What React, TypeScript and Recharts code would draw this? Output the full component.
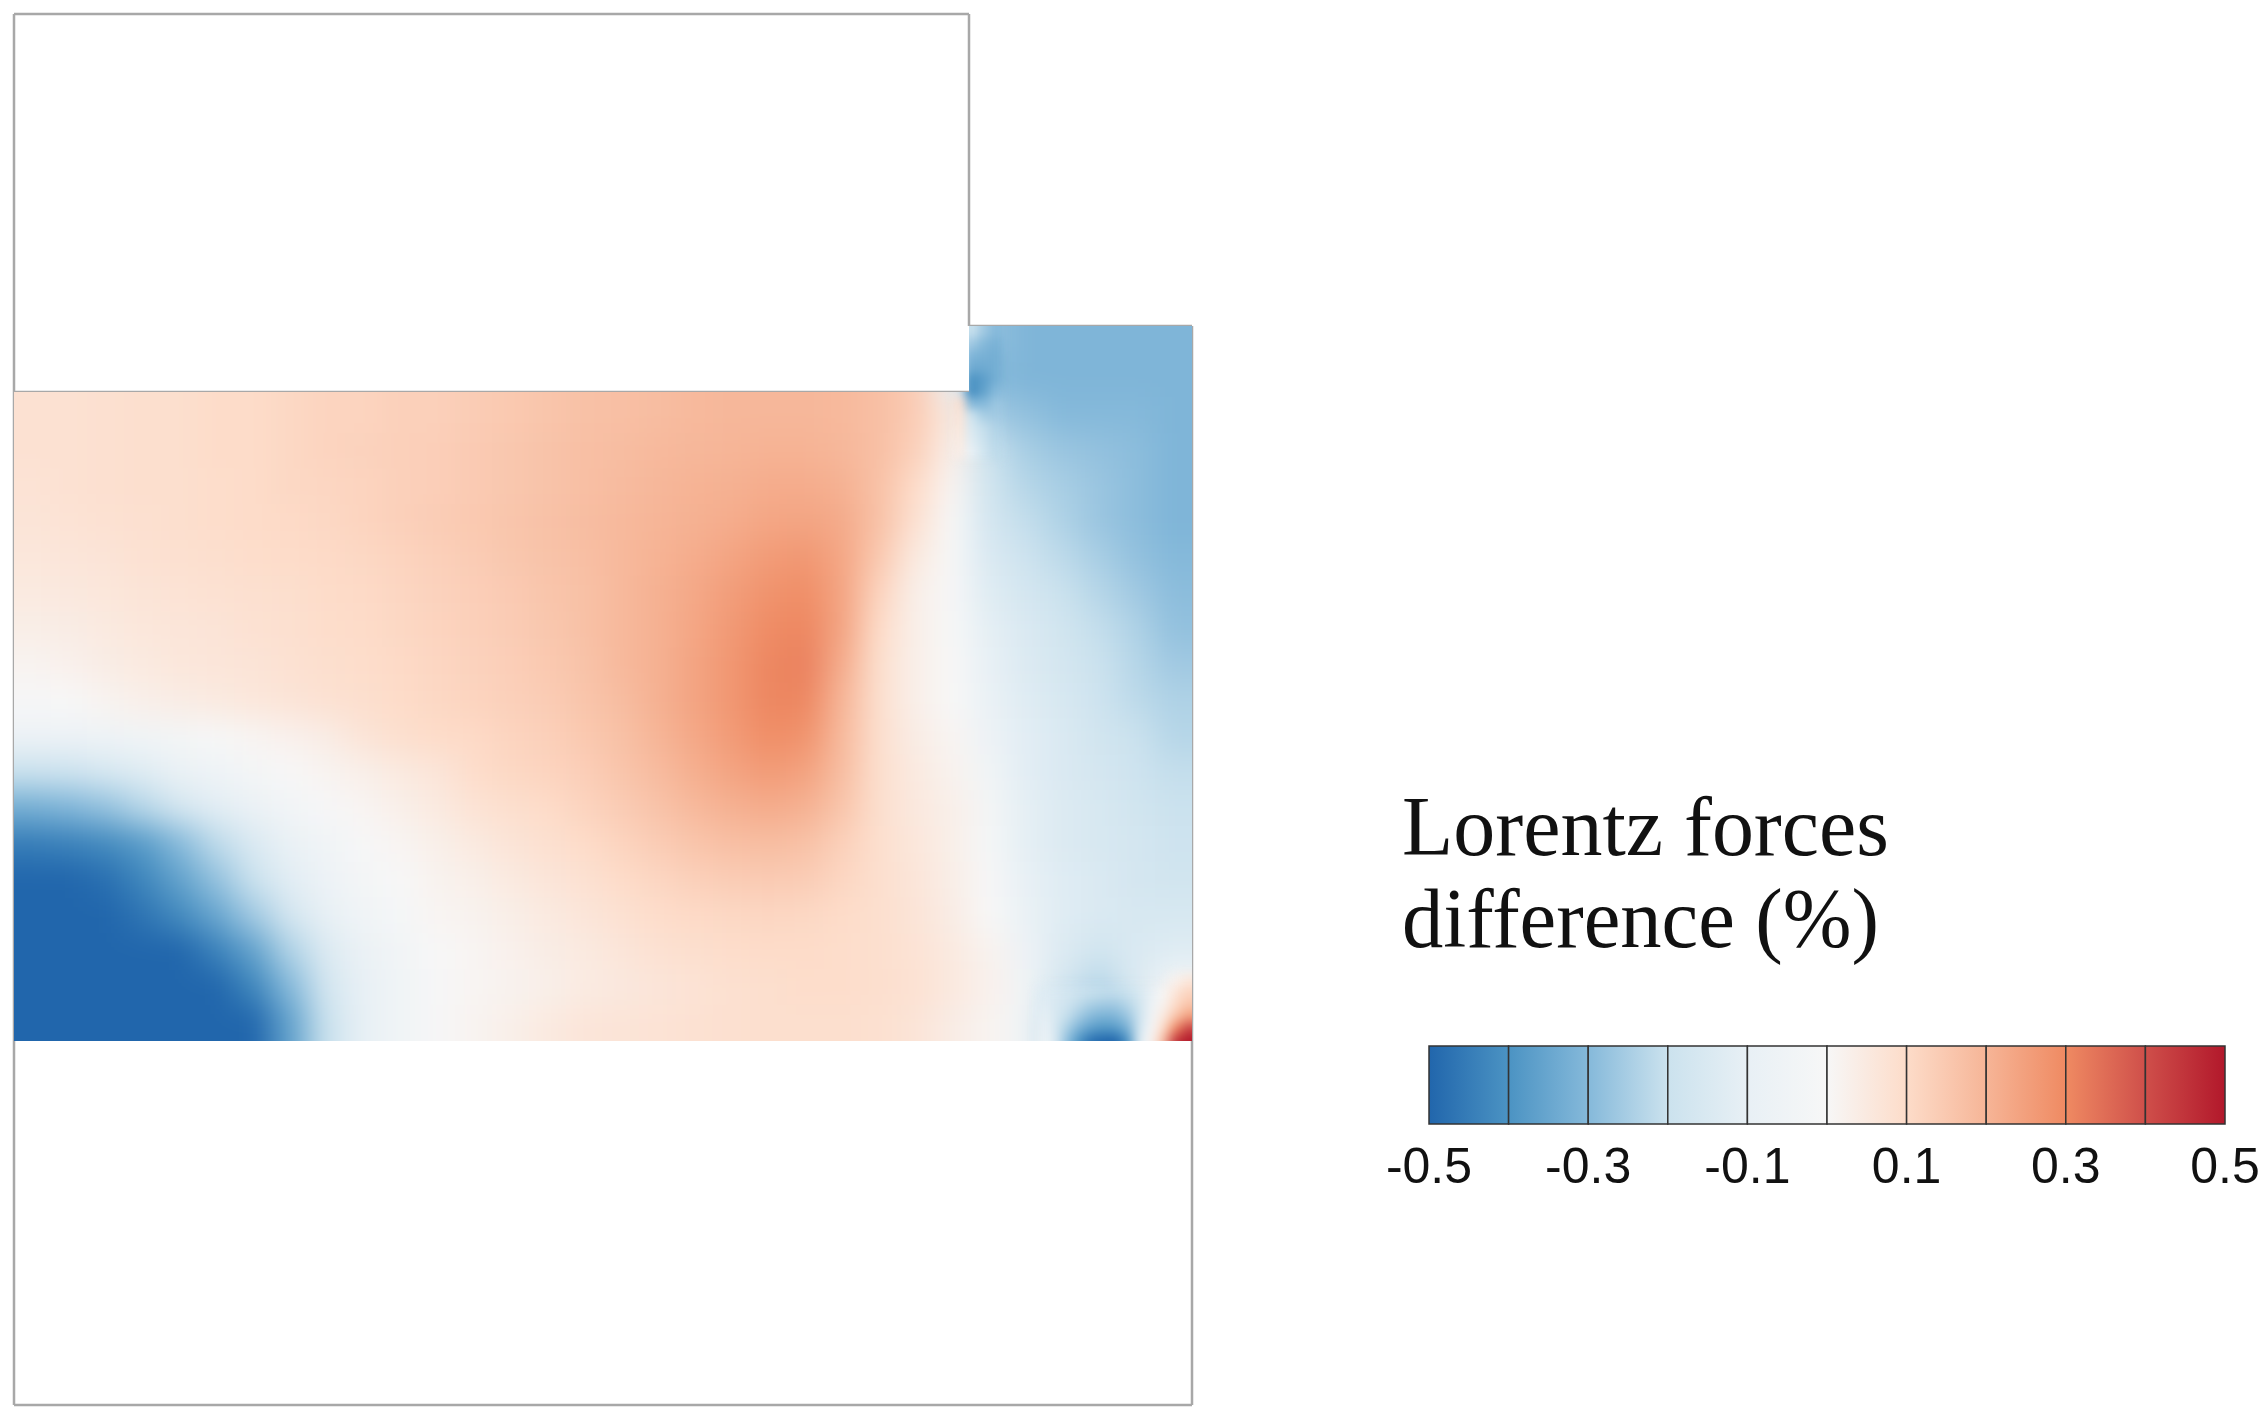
import React from 'react';
import { ScatterChart, Scatter, XAxis, YAxis, ReferenceLine } from 'recharts';

const titleLines = ['Lorentz forces', 'difference (%)'];
const barTicks = [-0.5, -0.3, -0.1, 0.1, 0.3, 0.5];
const barSegments = [-0.45, -0.35, -0.25, -0.15, -0.05, 0.05, 0.15, 0.25, 0.35, 0.45];
const stopValues = [-0.5, -0.4, -0.3, -0.2, -0.1, 0, 0.1, 0.2, 0.3, 0.4, 0.5];
const stopColors = ['#2166ac', '#4b93c3', '#85b9da', '#cbe2ee', '#e8f0f5', '#f7f7f7', '#fddcc9', '#f6b597', '#ef8a62', '#cf4f4a', '#b2182b'];

// field values, one row per 35.75px band, top to bottom
const row00 = [.08,.08,.085,.09,.09,.10,.10,.11,.12,.12,.13,.13,.14,.15,.16,.17,.175,.18,.19,.195,.195,.195,.19,.175,-.1,-.2,-.28,-.31,-.31,-.31,-.31,-.31];
const row01 = [.08,.08,.085,.09,.09,.10,.10,.11,.12,.12,.13,.13,.14,.15,.16,.17,.175,.18,.19,.195,.195,.195,.19,.175,.14,-.1,-.3,-.31,-.31,-.31,-.31,-.31];
const row02 = [.08,.08,.085,.09,.09,.10,.10,.11,.12,.12,.13,.13,.14,.15,.16,.17,.175,.18,.19,.195,.195,.195,.19,.175,.14,.05,-.26,-.28,-.3,-.3,-.3,-.31];
const row03 = [.08,.08,.085,.09,.09,.10,.10,.11,.12,.125,.13,.135,.145,.155,.165,.175,.18,.19,.195,.20,.205,.205,.195,.175,.13,.03,-.2,-.25,-.27,-.28,-.29,-.31];
const row04 = [.075,.08,.085,.09,.09,.095,.10,.11,.115,.12,.13,.135,.145,.155,.165,.175,.185,.195,.205,.21,.22,.22,.21,.17,.10,.01,-.18,-.23,-.25,-.27,-.29,-.31];
const row05 = [.07,.075,.08,.085,.09,.095,.10,.105,.11,.12,.13,.14,.15,.16,.17,.18,.19,.2,.21,.22,.235,.24,.225,.17,.08,0,-.17,-.21,-.24,-.27,-.29,-.31];
const row06 = [.06,.065,.07,.08,.085,.09,.095,.10,.105,.11,.12,.13,.14,.155,.165,.175,.19,.205,.22,.24,.26,.27,.235,.15,.05,-.005,-.15,-.19,-.22,-.25,-.28,-.3];
const row07 = [.05,.055,.06,.07,.075,.08,.085,.09,.10,.105,.115,.125,.135,.145,.16,.17,.19,.21,.23,.255,.28,.29,.24,.12,.03,-.01,-.13,-.17,-.2,-.23,-.26,-.29];
const row08 = [.035,.04,.05,.06,.065,.07,.08,.085,.095,.10,.11,.12,.13,.14,.155,.17,.19,.21,.235,.265,.295,.305,.24,.1,.03,-.005,-.11,-.15,-.18,-.21,-.24,-.28];
const row09 = [.015,.025,.04,.05,.06,.065,.07,.08,.09,.095,.105,.115,.125,.135,.15,.165,.19,.21,.24,.27,.305,.315,.22,.09,.03,0,-.1,-.14,-.17,-.2,-.23,-.26];
const row10 = [-.01,0,.015,.03,.04,.05,.06,.07,.08,.09,.10,.11,.12,.13,.14,.16,.18,.21,.24,.27,.305,.305,.2,.09,.03,0,-.09,-.13,-.16,-.19,-.22,-.24];
const row11 = [-.07,-.065,-.06,-.05,-.03,-.005,.01,.025,.04,.07,.09,.10,.105,.12,.13,.15,.17,.20,.23,.26,.29,.28,.19,.09,.04,.01,-.07,-.12,-.15,-.18,-.2,-.23];
const row12 = [-.2,-.19,-.16,-.13,-.09,-.06,-.03,0,.015,.03,.05,.065,.095,.11,.12,.135,.16,.185,.215,.24,.26,.245,.18,.09,.05,.02,-.05,-.12,-.15,-.17,-.19,-.21];
const row13 = [-.33,-.31,-.28,-.23,-.17,-.12,-.08,-.04,-.01,.01,.03,.05,.075,.09,.10,.12,.14,.165,.19,.21,.22,.21,.16,.09,.055,.03,-.03,-.11,-.14,-.16,-.18,-.2];
const row14 = [-.45,-.44,-.42,-.38,-.3,-.22,-.15,-.09,-.05,-.01,.01,.03,.05,.07,.085,.10,.12,.14,.16,.175,.18,.17,.13,.09,.06,.03,-.02,-.11,-.14,-.16,-.17,-.19];
const row15 = [-.5,-.5,-.48,-.43,-.36,-.28,-.2,-.12,-.07,-.03,0,.02,.03,.05,.065,.08,.10,.115,.13,.14,.145,.14,.115,.09,.065,.035,-.01,-.1,-.13,-.15,-.17,-.18];
const row16 = [-.5,-.5,-.5,-.47,-.42,-.35,-.26,-.17,-.1,-.05,-.02,.01,.02,.035,.05,.065,.08,.095,.105,.11,.115,.11,.10,.09,.07,.04,0,-.09,-.13,-.15,-.16,-.16];
const row17 = [-.5,-.5,-.5,-.5,-.5,-.44,-.36,-.24,-.14,-.08,-.04,0,.01,.025,.04,.05,.065,.08,.09,.095,.10,.10,.095,.09,.075,.05,.02,-.07,-.14,-.18,-.15,-.13];
const row18 = [-.5,-.5,-.5,-.5,-.5,-.5,-.43,-.3,-.17,-.1,-.05,-.01,.01,.02,.03,.045,.055,.065,.075,.085,.09,.095,.095,.09,.08,.055,.025,-.05,-.17,-.23,-.14,-.02];
const row19 = [-.5,-.5,-.5,-.5,-.5,-.5,-.5,-.36,-.2,-.1,-.05,-.01,.015,.03,.05,.065,.07,.075,.08,.085,.09,.09,.09,.085,.07,.04,.015,-.05,-.25,-.32,-.18,.15];
const fieldRows = [row00,row01,row02,row03,row04,row05,row06,row07,row08,row09,row10,row11,row12,row13,row14,row15,row16,row17,row18,row19];

// bottom-right detail, 12px cells
const tipX = [1030,1042,1054,1066,1078,1090,1102,1114,1126,1138,1150,1162,1174];
const tipY = [424,412,400,388,376,364];
const tip0 = [null,null,null,null,null,null,null,null,null,null,null,.02,.06];
const tip1 = [-.13,-.15,-.17,-.19,-.2,-.21,-.21,-.2,-.16,-.1,0,.07,.12];
const tip2 = [-.12,-.16,-.19,-.22,-.25,-.26,-.26,-.23,-.18,-.07,.02,.1,.16];
const tip3 = [-.1,-.16,-.21,-.26,-.3,-.32,-.31,-.27,-.19,-.04,.05,.16,.25];
const tip4 = [-.07,-.16,-.25,-.32,-.37,-.39,-.38,-.32,-.17,-.01,.1,.3,.42];
const tip5 = [-.05,-.15,-.29,-.4,-.48,-.5,-.5,-.4,-.12,.01,.18,.45,.5];
const tipRows = [tip0, tip1, tip2, tip3, tip4, tip5];

// step-corner detail, 12px cells
const stepX = [946,958,970,982];
const stepY = [1073,1061,1049,1037,1025,1013,1001,989,977,965,953];
const stepRows = [
  [null,-.2,-.26,-.3],
  [null,-.26,-.3,-.32],
  [null,-.31,-.32,-.33],
  [null,-.34,-.34,-.33],
  [null,-.4,-.37,-.33],
  [null,-.41,-.36,-.3],
  [.08,-.3,-.3,-.27],
  [.07,-.2,-.25,-.26],
  [.06,-.16,-.21,-.24],
  [.05,-.13,-.2,-.23],
  [.04,-.1,-.18,-.22],
];

const outline = [
  [[0, 1391], [955, 1391]],
  [[955, 1391], [955, 1079]],
  [[955, 1079], [1178, 1079]],
  [[1178, 1079], [1178, 0]],
  [[1178, 0], [0, 0]],
  [[0, 0], [0, 1391]],
  [[0, 1013], [955, 1013]],
];

const CELL_W = 1178 / 32;
const CELL_H = 715 / 20;
const GRID_TOP = 1079;
const BAR_SEG_W = 79.6;
const BAR_H = 78;

const hex = (c: string) => [1, 3, 5].map((i) => parseInt(c.slice(i, i + 2), 16));
function colorOf(v: number) {
  const x = Math.max(-0.5, Math.min(0.5, v));
  let i = 0;
  while (i < stopValues.length - 2 && x > stopValues[i + 1]) i++;
  const t = (x - stopValues[i]) / (stopValues[i + 1] - stopValues[i]);
  const a = hex(stopColors[i]);
  const b = hex(stopColors[i + 1]);
  return `rgb(${a.map((p, k) => Math.round(p + (b[k] - p) * t)).join(',')})`;
}

const fieldData = fieldRows.flatMap((r, j) =>
  r.map((v, i) => ({ x: (i + 0.5) * CELL_W, y: GRID_TOP - (j + 0.5) * CELL_H, v, i, j })),
);
const tipData = tipRows.flatMap((r, j) =>
  r.flatMap((v, i) => (v === null ? [] : [{ x: tipX[i], y: tipY[j], v, i, j }])),
);
const stepData = stepRows.flatMap((r, j) =>
  r.flatMap((v, i) => (v === null ? [] : [{ x: stepX[i], y: stepY[j], v, i, j }])),
);

const cellShape = (w: number, h: number, pad: (p: any) => number[]) => (props: any) => {
  const [l, r, t, b] = pad(props.payload);
  return (
    <rect
      x={props.cx - w / 2 - l - 0.5}
      y={props.cy - h / 2 - t - 0.5}
      width={w + l + r + 1}
      height={h + t + b + 1}
      fill={colorOf(props.payload.v)}
    />
  );
};
const fieldShape = cellShape(CELL_W, CELL_H, (p) => [
  p.i === 0 ? 80 : 0,
  p.i === 31 ? 80 : 0,
  p.j === 0 ? 80 : 0,
  p.j === 19 ? 80 : 0,
]);
const tipShape = cellShape(12, 12, (p) => [0, p.i === 12 ? 40 : 0, 0, p.j === 5 ? 40 : 0]);
const stepShape = cellShape(12, 12, (p) => [0, 0, p.j === 0 ? 30 : 0, 0]);

const barData = barSegments.map((x, i) => ({ x, y: 0.5, i }));
const barShape = (props: any) => (
  <rect
    x={props.cx - BAR_SEG_W / 2}
    y={props.cy - BAR_H / 2}
    width={BAR_SEG_W}
    height={BAR_H}
    fill={`url(#grad${props.payload.i})`}
    stroke="#333"
    strokeWidth={1.5}
  />
);

const css = `
.lay-field { filter: blur(15px); clip-path: url(#fieldClip); }
.lay-tip { filter: blur(6px); clip-path: url(#fieldClip); }
.lay-step { filter: blur(5px); clip-path: url(#fieldClip); }
`;

export default function App() {
  return (
    <div style={{ position: 'absolute', left: 0, top: 0, width: 2266, height: 1421, background: '#fff' }}>
      <style>{css}</style>
      <div style={{ position: 'absolute', left: 0, top: 0 }}>
        <ScatterChart width={2266} height={1421} margin={{ left: 14, right: 1074, top: 14, bottom: 16 }}>
          <defs>
            <clipPath id="fieldClip" clipPathUnits="userSpaceOnUse">
              <path d="M14 392H969V326H1192V1041H14Z" />
            </clipPath>
          </defs>
          <XAxis type="number" dataKey="x" domain={[0, 1178]} hide />
          <YAxis type="number" dataKey="y" domain={[0, 1391]} hide />
          <Scatter className="lay-field" data={fieldData} shape={fieldShape} isAnimationActive={false} />
          <Scatter className="lay-tip" data={tipData} shape={tipShape} isAnimationActive={false} />
          <Scatter className="lay-step" data={stepData} shape={stepShape} isAnimationActive={false} />
          {outline.map((s, k) => (
            <ReferenceLine
              key={k}
              segment={[{ x: s[0][0], y: s[0][1] }, { x: s[1][0], y: s[1][1] }]}
              stroke="#a8a8a8"
              strokeWidth={2.5}
              ifOverflow="visible"
            />
          ))}
        </ScatterChart>
      </div>
      <div style={{ position: 'absolute', left: 0, top: 0 }}>
        <ScatterChart width={2266} height={1421} margin={{ left: 1429, right: 41, top: 1046, bottom: 237 }}>
          <defs>
            {barSegments.map((seg, i) => (
              <linearGradient key={seg} id={`grad${i}`} x1="0" x2="1" y1="0" y2="0">
                <stop offset="0" stopColor={stopColors[i]} />
                <stop offset="1" stopColor={stopColors[i + 1]} />
              </linearGradient>
            ))}
          </defs>
          <XAxis
            type="number"
            dataKey="x"
            domain={[-0.5, 0.5]}
            ticks={barTicks}
            interval={0}
            axisLine={false}
            tickLine={false}
            tickMargin={17}
            height={60}
            tick={{ fontSize: 50, fontFamily: 'Liberation Sans', fill: '#111' }}
          />
          <YAxis type="number" dataKey="y" domain={[0, 1]} hide />
          <Scatter data={barData} shape={barShape} isAnimationActive={false} />
          {titleLines.map((t, i) => (
            <text
              key={t}
              x={1402}
              y={855 + i * 92}
              fontFamily="Liberation Serif"
              fontSize={85}
              fill="#111"
              textLength={i === 0 ? 487 : 477}
              lengthAdjust="spacingAndGlyphs"
            >
              {t}
            </text>
          ))}
        </ScatterChart>
      </div>
    </div>
  );
}
